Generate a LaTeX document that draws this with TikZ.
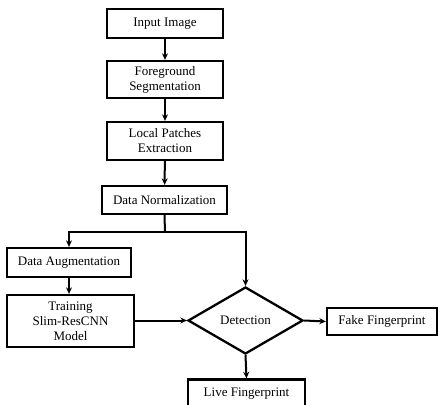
\documentclass[tikz,border=0pt]{standalone}
\usepackage{fontspec}
\setmainfont{Liberation Serif}
\usetikzlibrary{shapes.geometric,arrows.meta}
\begin{document}
\begin{tikzpicture}[x=1pt,y=-1pt,
  box/.style={draw,line width=2.3pt,align=center,inner sep=0pt,font=\fontsize{13}{15}\selectfont},
  dia/.style={draw,diamond,line width=2.3pt,inner sep=0pt,shape aspect=1.7,font=\fontsize{13}{15}\selectfont},
  arr/.style={line width=2pt,-{Stealth[length=6.5pt,width=6pt]}},
  ln/.style={line width=2pt}]
\useasboundingbox (0,0) rectangle (440,405);
\node[box,minimum width=116pt,minimum height=29pt] (in) at (165,23.5) {Input Image};
\node[box,minimum width=116pt,minimum height=37pt] (fg) at (165,79.5) {Foreground\\Segmentation};
\node[box,minimum width=116pt,minimum height=38pt] (lp) at (165,141) {Local Patches\\Extraction};
\node[box,minimum width=125pt,minimum height=28pt] (dn) at (164.5,200) {Data Normalization};
\node[box,minimum width=124pt,minimum height=29pt] (da) at (69,262.5) {Data Augmentation};
\node[box,minimum width=127pt,minimum height=52pt] (tr) at (70.5,321) {Training\\Slim-ResCNN\\Model};
\node[dia,minimum width=115pt,minimum height=67pt] (det) at (245.5,320.5) {Detection};
\node[box,minimum width=110pt,minimum height=27pt] (fake) at (382,321.5) {Fake Fingerprint};
\node[box,minimum width=117pt,minimum height=29pt] (live) at (246.5,394) {Live Fingerprint};
\coordinate (br) at (165,232);
\draw[arr] (in) -- (fg);
\draw[arr] (fg) -- (lp);
\draw[arr] (lp) -- (dn);
\draw[ln] (dn.south) -- (br);
\draw[arr] (br) -| (da.north);
\draw[arr] (br) -| (det.north);
\draw[arr] (da) -- (da.south |- tr.north);
\draw[arr] (tr.east |- det.west) -- (det.west);
\draw[arr] (det.east) -- (fake.west);
\draw[arr] (det.south) -- (live.north);
\end{tikzpicture}
\end{document}
